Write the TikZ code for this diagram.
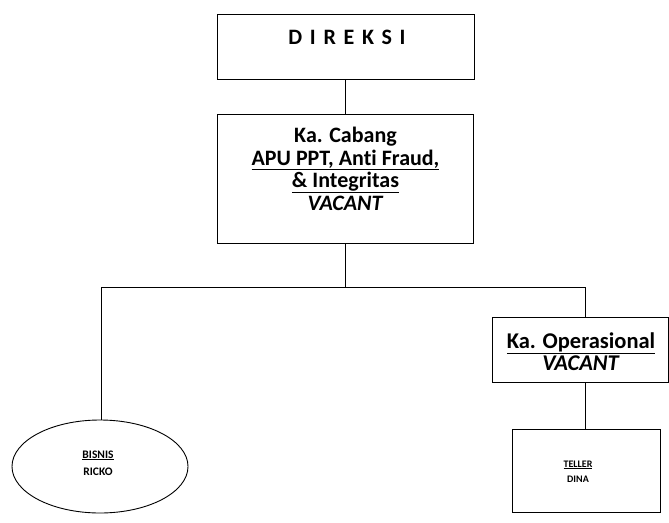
\documentclass[tikz,border=0pt]{standalone}
\usepackage{fontspec}
\setmainfont[Ligatures=NoCommon]{Carlito}
\usetikzlibrary{shapes.geometric}
\tikzset{
  box/.style={draw, line width=0.9pt, rectangle, inner sep=0pt},
  oval/.style={draw, line width=0.9pt, ellipse, inner sep=0pt},
  txt/.style={font=\bfseries, align=center, inner sep=0pt},
  conn/.style={draw, line width=0.7pt}
}
\begin{document}
\begin{tikzpicture}[x=1pt,y=-1pt]
\useasboundingbox (0,0) rectangle (669,522);
% boxes
\node[box, minimum width=257pt, minimum height=65pt] (direksi) at (345.5,46.5) {};
\node[box, minimum width=256pt, minimum height=129pt] (cabang) at (345.5,178.5) {};
\node[box, minimum width=176pt, minimum height=65pt] (ops) at (580,349.5) {};
\node[oval, minimum width=176pt, minimum height=93pt] (bisnis) at (100,466.5) {};
\node[box, minimum width=148pt, minimum height=83pt] (teller) at (586,470.5) {};
% texts (base anchor = baseline of last line)
\node[txt, font=\fontsize{22}{24}\selectfont\bfseries\addfontfeatures{LetterSpace=35}, anchor=base] (tdireksi) at (347,44) {DIREKSI};
\node[txt, font=\fontsize{22}{22.5}\selectfont\bfseries, anchor=base] (tcabang) at (345.5,210) {Ka. Cabang\\\underline{APU PPT, Anti Fraud,}\\\underline{\& Integritas}\\\textit{VACANT}};
\node[txt, font=\fontsize{22.5}{22}\selectfont\bfseries, anchor=base] (tops) at (581,370) {\underline{Ka. Operasional}\\\textit{VACANT}};
\node[txt, font=\fontsize{11.5}{17}\selectfont\bfseries, anchor=base] (tbisnis) at (98,475) {\underline{BISNIS}\\RICKO};
\node[txt, font=\fontsize{10}{15}\selectfont\bfseries, anchor=base] (tteller) at (578,482) {\underline{TELLER}\\DINA};
% connectors
\coordinate (busL) at (101,287);
\coordinate (busR) at (585,287);
\draw[conn] (direksi.south) -- (cabang.north);
\draw[conn] (cabang.south) -- (cabang.south |- busL);
\draw[conn] (bisnis.north -| busL) -- (busL) -- (busR) -- (busR |- ops.north);
\draw[conn] (teller.north -| busR) -- (busR |- ops.south);
\end{tikzpicture}
\end{document}
